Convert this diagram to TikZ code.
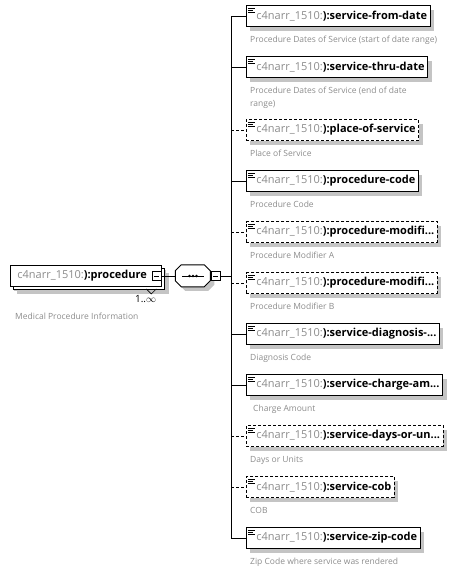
\documentclass[tikz,border=0pt]{standalone}
\usepackage{fontspec}
\setmainfont{Open Sans}
\usepackage{tikz}
\usetikzlibrary{shadows,positioning,calc}

\definecolor{prefixgrey}{RGB}{140,140,140}
\definecolor{docgrey}{RGB}{140,140,140}
\definecolor{shadowgrey}{RGB}{196,196,196}

\newcommand{\qname}[1]{{\color{prefixgrey}c4narr\_1510:}\textbf{):#1}}

\begin{document}
\begin{tikzpicture}[x=1pt,y=-1pt,>=stealth,font=\fontsize{11}{13}\selectfont]
    % boxes of the content model
    \tikzstyle{elembox}=[rectangle,draw=black,line width=0.9pt,fill=white,
    minimum height=21pt,inner xsep=3pt,inner ysep=0pt,anchor=west,
    general shadow={fill=shadowgrey,shadow xshift=4pt,shadow yshift=-4pt}]
    \tikzstyle{element}=[elembox,execute at begin node={\hspace*{7pt}},
    path picture={\draw[solid,line width=0.6pt]
      ([shift={(2pt,-2.5pt)}]path picture bounding box.north west) -- ++(7pt,0pt)
      ([shift={(2pt,-4.5pt)}]path picture bounding box.north west) -- ++(5pt,0pt)
      ([shift={(2pt,-6.5pt)}]path picture bounding box.north west) -- ++(7pt,0pt);}]
    \tikzstyle{optional}=[element,dash pattern=on 3pt off 2pt]
    \tikzstyle{multibox}=[elembox,
    general shadow={fill=shadowgrey,shadow xshift=7pt,shadow yshift=-7pt},
    copy shadow={shadow xshift=3pt,shadow yshift=-3pt}]
    \tikzstyle{sequence}=[rectangle,minimum width=35pt,minimum height=22pt,inner sep=0pt]
    \tikzstyle{seqline}=[draw=black,line width=0.9pt,fill=white]
    \tikzstyle{fold}=[rectangle,draw=black,line width=0.6pt,fill=white,
    minimum size=9pt,inner sep=0pt,
    path picture={\draw[line width=0.6pt] ([xshift=2pt]path picture bounding box.west)
      -- ([xshift=-2pt]path picture bounding box.east);}]
    \tikzstyle{doc}=[font=\fontsize{8.5}{13}\selectfont,text=docgrey,
    anchor=north west,inner sep=0pt,align=left]
    \tikzstyle{link}=[draw=black,line width=0.8pt]
    \tikzstyle{optlink}=[link,dash pattern=on 3pt off 2pt]

    \useasboundingbox (0,0) rectangle (461,571);

    \node [multibox] (proc) at (10,276) {\hspace*{4pt}\qname{procedure}\hspace*{12pt}};
    \node [fold] (proc-fold) at ([xshift=-5.5pt]proc.east) {};
    \node [anchor=north east,inner sep=0pt,font=\fontsize{10}{12}\selectfont] (proc-occurs)
      at ([shift={(-6,8)}]proc.south east) {1..$\infty$};
    \node [doc] (proc-doc) at ([shift={(5,26)}]proc.south west) {Medical Procedure Information};
    \draw [line width=0.6pt] ([shift={(-16,2)}]proc.south east) -- ++(5,5) -- ++(5,-5);

    % sequence compositor
    \node [sequence] (seq) at (193,276) {};
    \path [fill=shadowgrey] ([shift={(4,4)}]seq.north west) ++(6,0) -- ++(23,0) -- ++(6,6)
      -- ++(0,10) -- ++(-6,6) -- ++(-23,0) -- ++(-6,-6) -- ++(0,-10) -- cycle;
    \path [seqline] (seq.north west) ++(6,0) -- ++(23,0) -- ++(6,6)
      -- ++(0,10) -- ++(-6,6) -- ++(-23,0) -- ++(-6,-6) -- ++(0,-10) -- cycle;
    \draw [line width=0.8pt] ([xshift=7pt]seq.west) -- ([xshift=-7pt]seq.east);
    \fill ([xshift=-3.5pt]seq.center) circle (1.3pt);
    \fill (seq.center) circle (1.3pt);
    \fill ([xshift=3.5pt]seq.center) circle (1.3pt);
    \node [fold,anchor=west] (seq-fold) at (seq.east) {};
    \coordinate (bus) at (231,276);

    \node [element]  (e1)  at (246,16)  {\qname{service-from-date}};
    \node [element]  (e2)  at (246,67)  {\qname{service-thru-date}};
    \node [optional] (e3)  at (246,130) {\qname{place-of-service}};
    \node [element]  (e4)  at (246,181) {\qname{procedure-code}};
    \node [optional] (e5)  at (246,232) {\qname{procedure-modifi...}};
    \node [optional] (e6)  at (246,283) {\qname{procedure-modifi...}};
    \node [element]  (e7)  at (246,334) {\qname{service-diagnosis-...}};
    \node [element]  (e8)  at (246,385) {\qname{service-charge-am...}};
    \node [optional] (e9)  at (246,436) {\qname{service-days-or-un...}};
    \node [optional] (e10) at (246,487) {\qname{service-cob}};
    \node [element]  (e11) at (246,538) {\qname{service-zip-code}};

    \node [doc] (e1-doc)  at ([shift={(4,9)}]e1.south west)  {Procedure Dates of Service (start of date range)};
    \node [doc] (e2-doc)  at ([shift={(4,9)}]e2.south west)  {Procedure Dates of Service (end of date\\range)};
    \node [doc] (e3-doc)  at ([shift={(4,9)}]e3.south west)  {Place of Service};
    \node [doc] (e4-doc)  at ([shift={(4,9)}]e4.south west)  {Procedure Code};
    \node [doc] (e5-doc)  at ([shift={(4,9)}]e5.south west)  {Procedure Modifier A};
    \node [doc] (e6-doc)  at ([shift={(4,9)}]e6.south west)  {Procedure Modifier B};
    \node [doc] (e7-doc)  at ([shift={(4,9)}]e7.south west)  {Diagnosis Code};
    \node [doc] (e8-doc)  at ([shift={(7,9)}]e8.south west)  {Charge Amount};
    \node [doc] (e9-doc)  at ([shift={(4,9)}]e9.south west)  {Days or Units};
    \node [doc] (e10-doc) at ([shift={(4,9)}]e10.south west) {COB};
    \node [doc] (e11-doc) at ([shift={(4,9)}]e11.south west) {Zip Code where service was rendered};

    \path (proc-fold) edge [link] (seq);
    \path (seq-fold) edge [link] (bus);
    \draw [link] (bus |- e1.west) -- (bus |- e11.west);
    \path (bus |- e1.west)  edge [link]    (e1);
    \path (bus |- e2.west)  edge [link]    (e2);
    \path (bus |- e3.west)  edge [optlink] (e3);
    \path (bus |- e4.west)  edge [link]    (e4);
    \path (bus |- e5.west)  edge [optlink] (e5);
    \path (bus |- e6.west)  edge [optlink] (e6);
    \path (bus |- e7.west)  edge [link]    (e7);
    \path (bus |- e8.west)  edge [link]    (e8);
    \path (bus |- e9.west)  edge [optlink] (e9);
    \path (bus |- e10.west) edge [optlink] (e10);
    \path (bus |- e11.west) edge [link]    (e11);

\end{tikzpicture}
\end{document}
